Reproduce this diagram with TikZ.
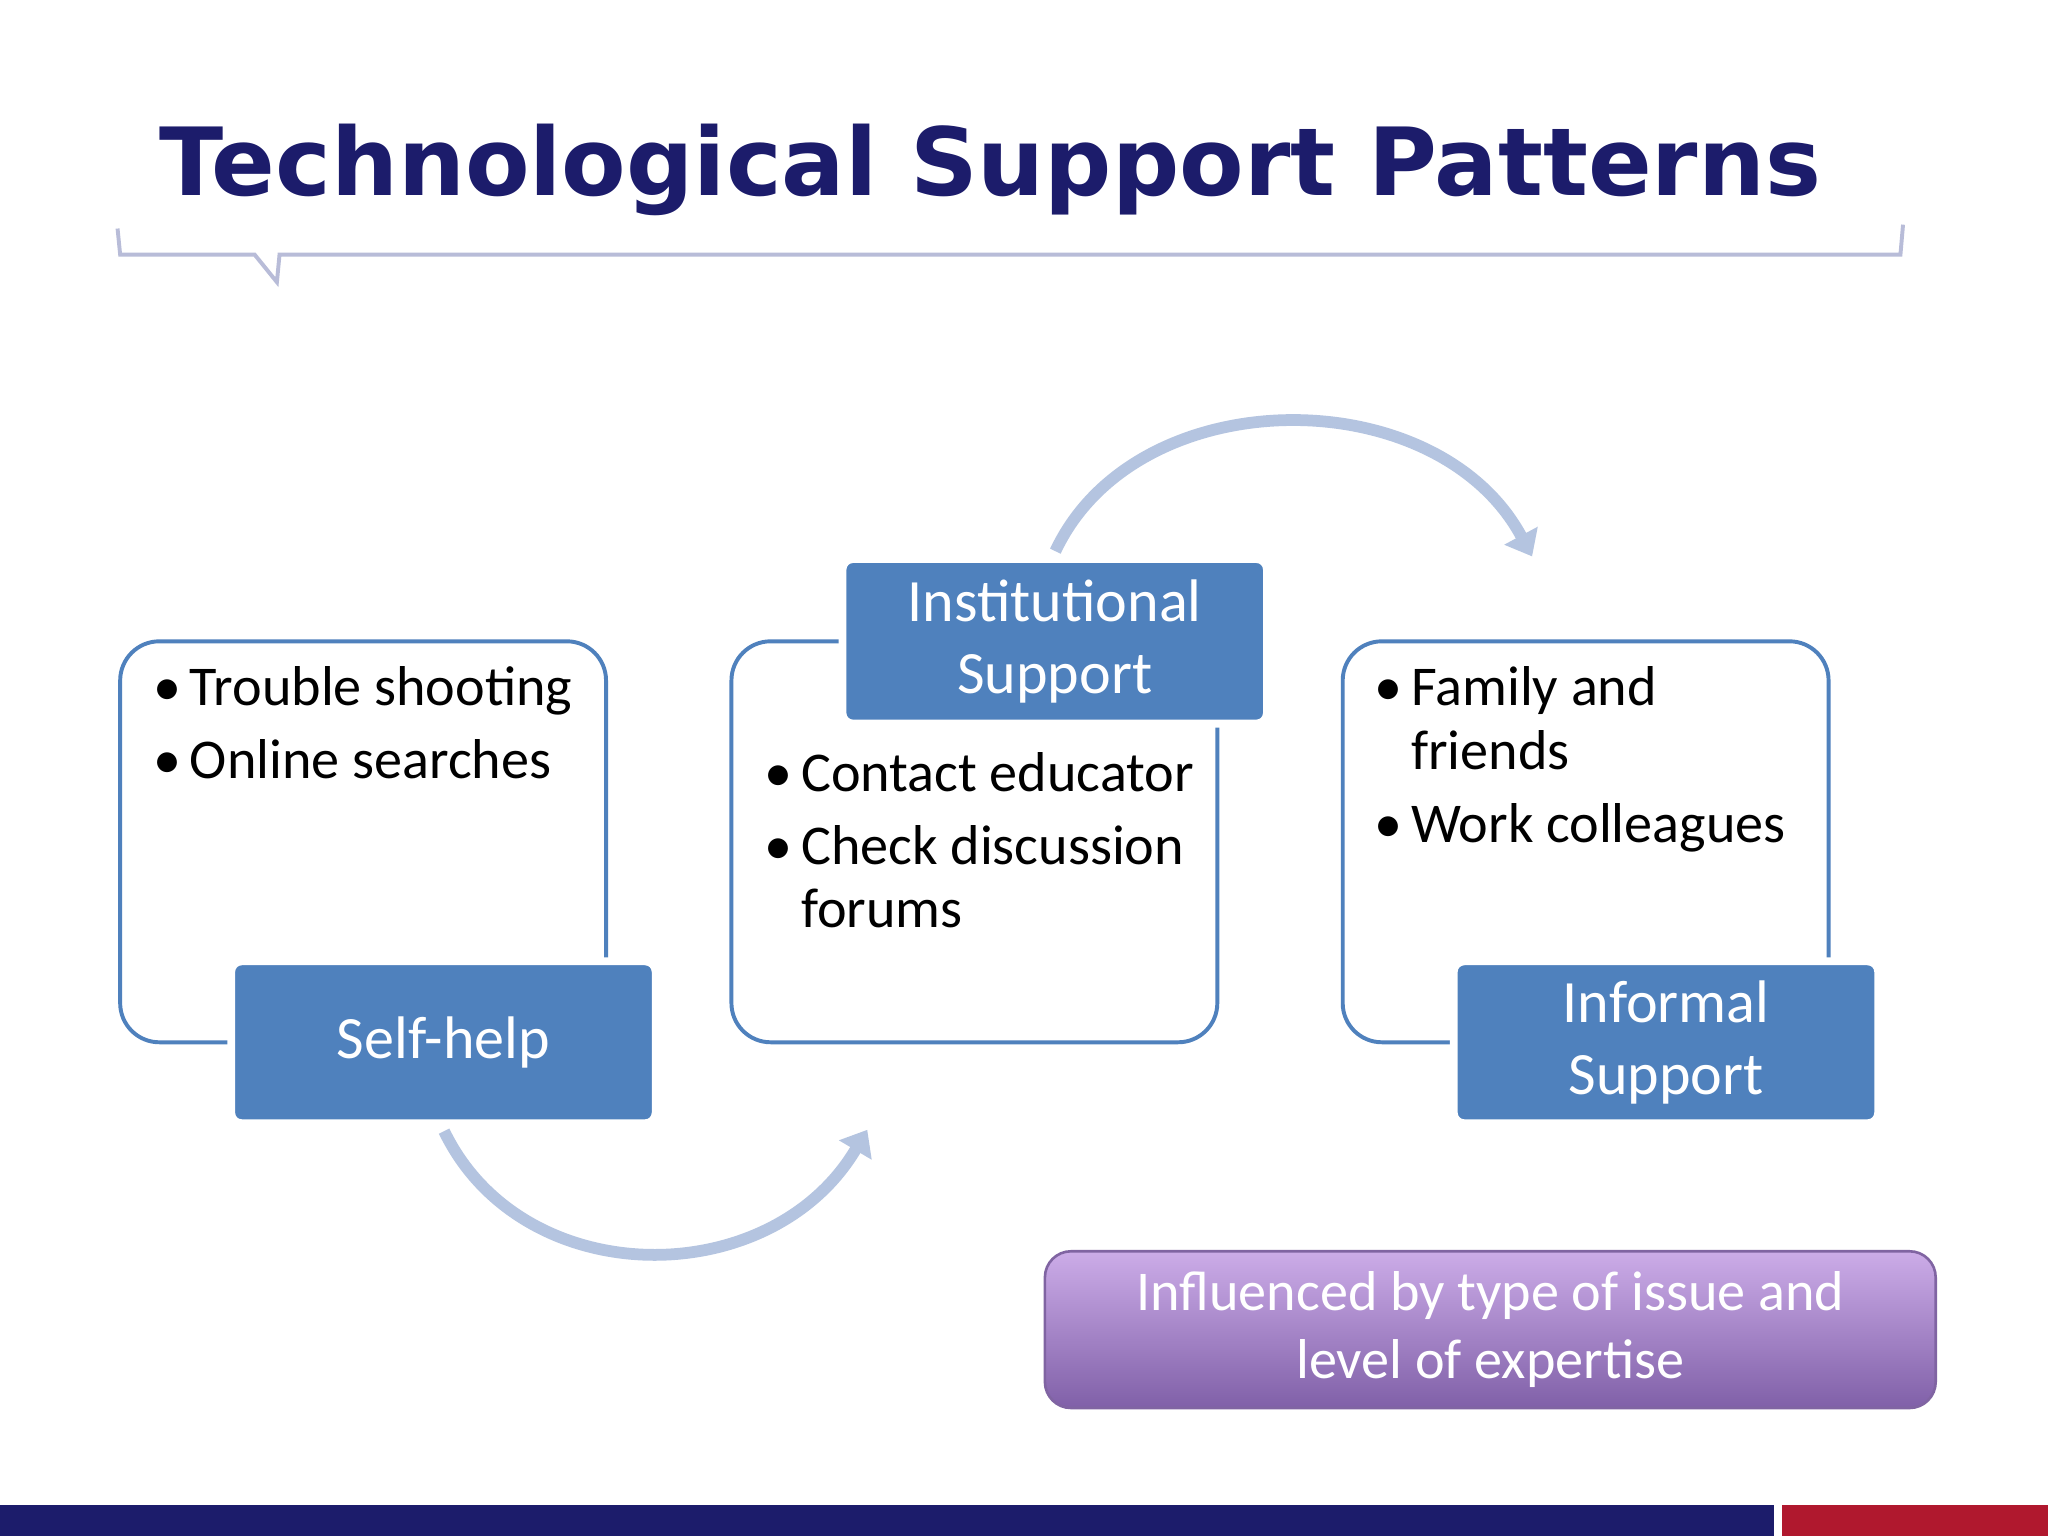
\documentclass[tikz,border=0pt]{standalone}
\usepackage{fontspec}
\setmainfont{Carlito}
\newfontfamily\titlefont{DejaVu Sans}
\usetikzlibrary{arrows.meta}
\definecolor{boxblue}{HTML}{4F81BD}
\definecolor{arcblue}{HTML}{B4C4E0}
\definecolor{navy}{HTML}{1C1C6B}
\definecolor{barred}{HTML}{B0182E}
\definecolor{brk}{HTML}{B8BCD8}
\begin{document}
\begin{tikzpicture}[x=0.5pt,y=-0.5pt,
  outline/.style={draw=boxblue,line width=1.5pt,rounded corners=15pt},
  label/.style={fill=boxblue,draw=white,line width=3pt,rounded corners=4pt},
  ltxt/.style={text=white,font=\fontsize{23}{27.5}\selectfont,align=center},
  btxt/.style={anchor=base west,font=\fontsize{21.5}{26}\selectfont,inner sep=0pt},
  arc/.style={draw=arcblue,line width=4.5pt,-{Triangle[length=9pt,width=14pt]}}]
\useasboundingbox (0,0) rectangle (1568,1176);
\fill[white] (0,0) rectangle (1568,1176);
% title
\node[anchor=base west,inner sep=0pt,text=navy,font=\titlefont\bfseries\fontsize{36}{40}\selectfont] (title) at (122,150) {Technological Support Patterns};
\draw[brk,line width=1.5pt] (90,175) -- (92,195) -- (195,195) -- (212,216) -- (214,195) -- (1455,195) -- (1457,172);
% boxes
\draw[outline] (92,491) rectangle (464,798);
\draw[outline] (560,491) rectangle (932,798);
\draw[outline] (1028,491) rectangle (1400,798);
\draw[label] (177,736) rectangle (502,860);
\node[ltxt] (self) at (339.5,798) {Self-help};
\draw[label] (645,428) rectangle (970,554);
\node[ltxt] (inst) at (807.5,491) {Institutional\\Support};
\draw[label] (1113,736) rectangle (1438,860);
\node[ltxt] (inf) at (1275.5,798) {Informal\\Support};
% bullets
\foreach \x/\y/\t in {117/540/{Trouble shooting},117/596/{Online searches},585/606/{Contact educator},585/662/{Check discussion},1052/540/{Family and},1052/645/{Work colleagues}}{
  \node[btxt] at (\x,\y) {•};
  \node[btxt] at (\x+28,\y) {\t};}
\node[btxt] at (613,710) {forums};
\node[btxt] at (1080,589) {friends};
% arcs
\coordinate (a1) at (340,866);
\coordinate (a2) at (664,865);
\coordinate (b1) at (808,422);
\coordinate (b2) at (1173,426);
\draw[arc] (a1) .. controls (400,990) and (590,990) .. (a2);
\draw[arc] (b1) .. controls (870,290) and (1100,290) .. (b2);
% purple box
\shade[top color={rgb,255:red,204;green,172;blue,232},bottom color={rgb,255:red,128;green,96;blue,168},rounded corners=10pt,draw={rgb,255:red,128;green,100;blue,162},line width=1pt] (800,958) rectangle (1482,1078);
\node[ltxt,font=\fontsize{21.5}{26}\selectfont] (note) at (1141,1018) {Influenced by type of issue and\\level of expertise};
% bottom bar
\fill[navy] (0,1152) rectangle (1358,1176);
\fill[barred] (1364,1152) rectangle (1568,1176);
\end{tikzpicture}
\end{document}
